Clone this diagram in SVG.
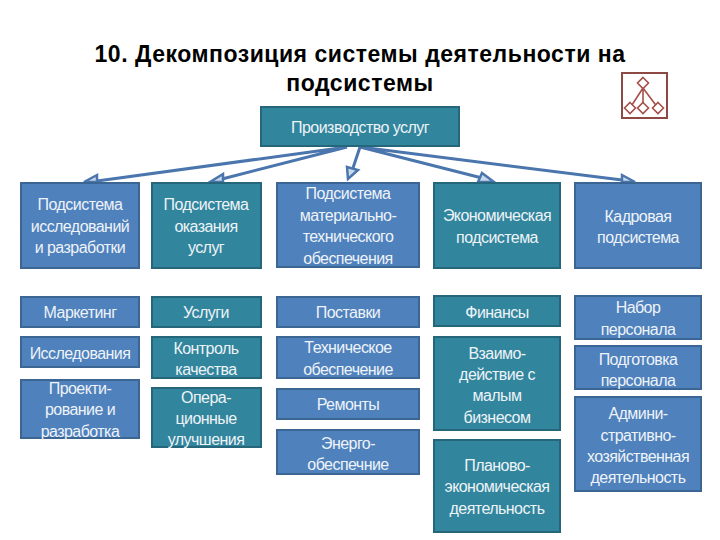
<svg xmlns="http://www.w3.org/2000/svg" width="720" height="540" viewBox="0 0 720 540">
<style>
.b{fill:#4f81bd;stroke:#3b6593;stroke-width:2}
.t{fill:#31859c;stroke:#25667a;stroke-width:2}
text{font-family:"Liberation Sans",Arial,sans-serif;font-size:16px;fill:#eef3f8;text-anchor:middle;letter-spacing:-.55px}
.h{font-size:23px;font-weight:bold;fill:#000;letter-spacing:.52px}
.c{stroke:#4a76ad;stroke-width:3;fill:none}
.a{stroke:#4a76ad;stroke-width:2.5;fill:#c9d9ec}
.i{stroke:#a5504a;stroke-width:1.6;fill:#fff}
.f{stroke:#8d4a45;stroke-width:2;fill:#fff}
</style>
<rect width="720" height="540" fill="#fff"/>
<text class="h" x="360" y="62">10. Декомпозиция системы деятельности на</text>
<text class="h" x="360" y="91">подсистемы</text>
<g id="icon"><rect class="f" x="622" y="73" width="45" height="45"/>
<path d="M643 88L630 108M643 88V108M643 88L658 108" class="i"/>
<path class="i" d="M643 77.500l5.500 5.500-5.500 5.500-5.500-5.500zM630 102.500l5.500 5.500-5.500 5.500-5.500-5.500zM643 102.500l5.500 5.500-5.500 5.500-5.500-5.500zM658 102.500l5.500 5.500-5.500 5.500-5.500-5.500z"/></g>
<g id="connectors">
<path class="c" d="M347 147L97 181M347 147L222 179M360 147L353 168M360 147L482 178M360 147L622 180"/>
<path class="a" d="M97 175L84 182H97z"/><path class="a" d="M223 174L210 182H223z"/><path class="a" d="M347 167L358 170L348 179z"/><path class="a" d="M482 173L494 182H478z"/><path class="a" d="M622 175L635 182H622z"/>
</g>
<g id="n0"><rect class="t" x="261" y="107" width="198" height="39"/><text x="360" y="133">Производство услуг</text></g>
<g id="n1"><rect class="b" x="21" y="183" width="118" height="85"/><text x="80" y="210">Подсистема</text><text x="80" y="232">исследований</text><text x="80" y="253">и разработки</text></g>
<g id="n2"><rect class="t" x="152" y="183" width="109" height="85"/><text x="206" y="210">Подсистема</text><text x="206" y="232">оказания</text><text x="206" y="253">услуг</text></g>
<g id="n3"><rect class="b" x="277" y="183" width="142" height="84"/><text x="348" y="199">Подсистема</text><text x="348" y="221">материально-</text><text x="348" y="242">технического</text><text x="348" y="264">обеспечения</text></g>
<g id="n4"><rect class="t" x="434" y="183" width="126" height="85"/><text x="497" y="221">Экономическая</text><text x="497" y="243">подсистема</text></g>
<g id="n5"><rect class="b" x="575" y="183" width="126" height="85"/><text x="638" y="222">Кадровая</text><text x="638" y="243">подсистема</text></g>
<g id="n6"><rect class="b" x="21" y="297" width="118" height="30"/><text x="80" y="318">Маркетинг</text></g>
<g id="n7"><rect class="b" x="21" y="337" width="118" height="30"/><text x="80" y="359">Исследования</text></g>
<g id="n8"><rect class="b" x="21" y="380" width="118" height="58"/><text x="80" y="394">Проекти-</text><text x="80" y="415">рование и</text><text x="80" y="437">разработка</text></g>
<g id="n9"><rect class="t" x="152" y="297" width="109" height="30"/><text x="206" y="318">Услуги</text></g>
<g id="n10"><rect class="t" x="152" y="337" width="109" height="41"/><text x="206" y="354">Контроль</text><text x="206" y="375">качества</text></g>
<g id="n11"><rect class="t" x="152" y="388" width="109" height="59"/><text x="206" y="403">Опера-</text><text x="206" y="424">ционные</text><text x="206" y="445">улучшения</text></g>
<g id="n12"><rect class="b" x="277" y="297" width="142" height="30"/><text x="348" y="318">Поставки</text></g>
<g id="n13"><rect class="b" x="277" y="337" width="142" height="41"/><text x="348" y="353">Техническое</text><text x="348" y="375">обеспечение</text></g>
<g id="n14"><rect class="b" x="277" y="389" width="142" height="30"/><text x="348" y="410">Ремонты</text></g>
<g id="n15"><rect class="b" x="277" y="430" width="142" height="44"/><text x="348" y="449">Энерго-</text><text x="348" y="470">обеспечние</text></g>
<g id="n16"><rect class="t" x="434" y="296" width="126" height="30"/><text x="497" y="318">Финансы</text></g>
<g id="n17"><rect class="t" x="434" y="337" width="126" height="93"/><text x="497" y="359">Взаимо-</text><text x="497" y="380">действие с</text><text x="497" y="401">малым</text><text x="497" y="423">бизнесом</text></g>
<g id="n18"><rect class="t" x="434" y="440" width="126" height="92"/><text x="497" y="471">Планово-</text><text x="497" y="492">экономическая</text><text x="497" y="514">деятельность</text></g>
<g id="n19"><rect class="b" x="575" y="296" width="126" height="43"/><text x="638" y="313">Набор</text><text x="638" y="335">персонала</text></g>
<g id="n20"><rect class="b" x="575" y="346" width="126" height="43"/><text x="638" y="365">Подготовка</text><text x="638" y="386">персонала</text></g>
<g id="n21"><rect class="b" x="575" y="397" width="126" height="94"/><text x="638" y="419">Админи-</text><text x="638" y="441">стративно-</text><text x="638" y="462">хозяйственная</text><text x="638" y="483">деятельность</text></g>
</svg>
